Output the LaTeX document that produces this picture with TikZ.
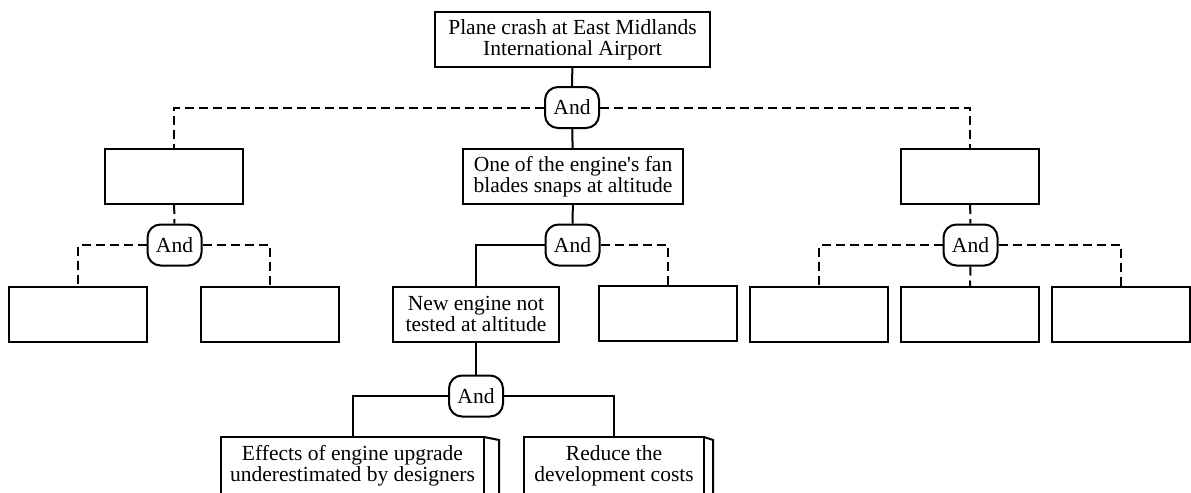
\documentclass[tikz,border=0pt]{standalone}
\usepackage{fontspec}
\setmainfont{Liberation Serif}

\tikzset{
  event/.style={draw, line width=1pt, align=center, inner sep=0pt,
    minimum height=27.5pt, font=\fontsize{10.75pt}{10.4pt}\selectfont},
  docbox/.style={event, draw=none},
  andgate/.style={draw, line width=1pt, rounded corners=6.5pt, inner sep=0pt,
    minimum width=27pt, minimum height=20.5pt, fill=white,
    font=\fontsize{10.75pt}{10.4pt}\selectfont},
  maybe/.style={line width=1pt, dash pattern=on 4.5pt off 2.5pt},
  sure/.style={line width=1pt}
}

\begin{document}
\begin{tikzpicture}[x=0.5pt,y=-0.5pt]

        \clip (0,0) rectangle (1191,493);

        \begin{scope}[every node/.style={event}]
          \node[minimum width=137.5pt] (crash) at (572.5,39.5) {Plane crash at East Midlands\\International Airport};
          \node[minimum width=69pt]  (lt)   at (174,176.5)  {};
          \node[minimum width=110pt] (fan)  at (573,176.5)  {One of the engine\textquotesingle s fan\\blades snaps at altitude};
          \node[minimum width=69pt]  (rt)   at (970,176.5)  {};
          \node[minimum width=69pt]  (lb1)  at (78,314.5)   {};
          \node[minimum width=69pt]  (lb2)  at (270,314.5)  {};
          \node[minimum width=83pt]  (newe) at (476,314)    {New engine not\\tested at altitude};
          \node[minimum width=69pt]  (mr)   at (668,313.5)  {};
          \node[minimum width=69pt]  (rb1)  at (819,314.5)  {};
          \node[minimum width=69pt]  (rb2)  at (970,314.5)  {};
          \node[minimum width=69pt]  (rb3)  at (1121,314.5) {};
        \end{scope}

        \begin{scope}[every node/.style={docbox}]
          \node[minimum width=130.5pt] (eff) at (352.5,465.5) {Effects of engine upgrade\\underestimated by designers};
          \node[minimum width=89pt]    (red) at (614,465.5)   {Reduce the\\development costs};
        \end{scope}

        \begin{scope}[every node/.style={andgate}]
          \node (g1)  at (572,107.5) {And};
          \node (g2l) at (174.5,245) {And};
          \node (g2)  at (572.5,245) {And};
          \node (g2r) at (970.5,245) {And};
          \node (g3)  at (476,396)   {And};
        \end{scope}

        % open frames of the two lowest boxes
        \draw[sure] (eff.south west) ++(0,30) |- (eff.north east) -- ++(0,60);
        \draw[sure] (eff.north east) -- ++(15,3) -- ++(0,60);
        \draw[sure] (red.south west) ++(0,30) |- (red.north east) -- ++(0,60);
        \draw[sure] (red.north east) -- ++(9,3) -- ++(0,60);

        \begin{scope}[sure]
          \draw (crash) -- (g1);
          \draw (g1) -- (fan);
          \draw (fan) -- (g2);
          \draw (g2.west) -| (newe.north);
          \draw (newe) -- (g3);
          \draw (g3.west) -| (eff.north);
          \draw (g3.east) -| (red.north);
        \end{scope}

        \begin{scope}[maybe]
          \draw (g1.west) -| (lt.north);
          \draw (g1.east) -| (rt.north);
          \draw (lt) -- (g2l);
          \draw (g2l.west) -| (lb1.north);
          \draw (g2l.east) -| (lb2.north);
          \draw (g2.east) -| (mr.north);
          \draw (rt) -- (g2r);
          \draw (g2r.west) -| (rb1.north);
          \draw (g2r) -- (rb2);
          \draw (g2r.east) -| (rb3.north);
        \end{scope}

      \end{tikzpicture}
\end{document}
